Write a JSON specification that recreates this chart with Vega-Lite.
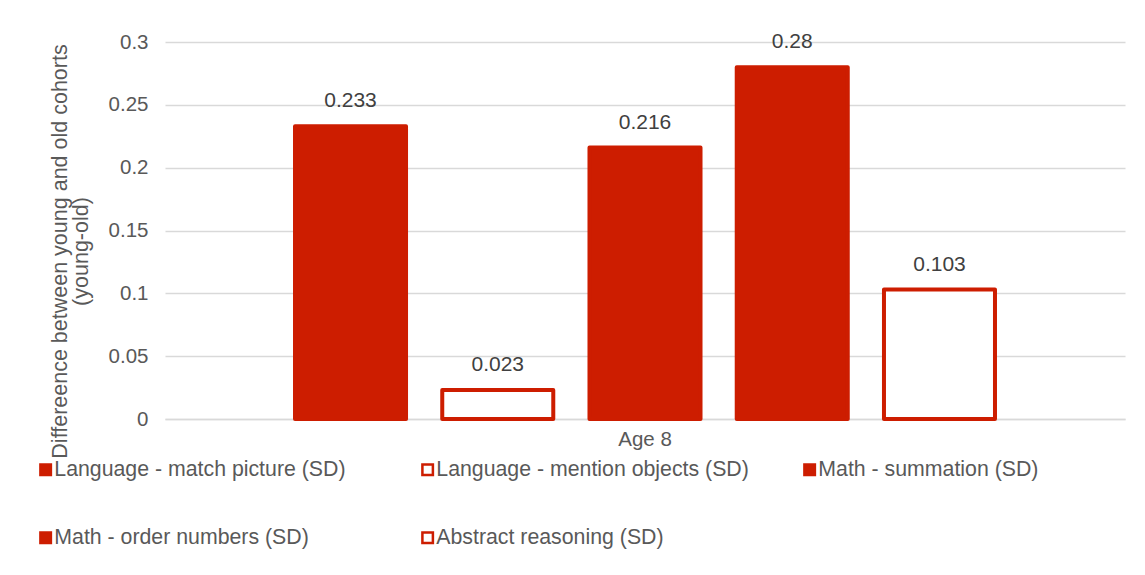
{
  "$schema": "https://vega.github.io/schema/vega-lite/v6.json",
  "autosize": {"type": "none"},
  "width": 960,
  "height": 377,
  "padding": {"left": 165, "top": 42, "right": 20, "bottom": 156},
  "background": "white",
  "config": {
    "view": {"stroke": null},
    "font": "Liberation Sans",
    "axis": {"labelFont": "Liberation Sans", "titleFont": "Liberation Sans"},
    "legend": {"labelFont": "Liberation Sans"}
  },
  "data": {
    "values": [
      {"age": "Age 8", "series": "Language - match picture (SD)", "value": 0.233},
      {"age": "Age 8", "series": "Language - mention objects (SD)", "value": 0.023},
      {"age": "Age 8", "series": "Math - summation (SD)", "value": 0.216},
      {"age": "Age 8", "series": "Math - order numbers (SD)", "value": 0.28},
      {"age": "Age 8", "series": "Abstract reasoning (SD)", "value": 0.103}
    ]
  },
  "encoding": {
    "x": {
      "field": "age",
      "type": "nominal",
      "scale": {"paddingInner": 0, "paddingOuter": 0},
      "axis": {
        "title": null,
        "labelAngle": 0,
        "labelFontSize": 20.5,
        "labelColor": "#595959",
        "labelPadding": 10,
        "ticks": false,
        "domain": true,
        "domainColor": "#d9d9d9",
        "domainWidth": 1.5
      }
    },
    "xOffset": {
      "field": "series",
      "type": "nominal",
      "sort": ["Language - match picture (SD)", "Language - mention objects (SD)", "Math - summation (SD)", "Math - order numbers (SD)", "Abstract reasoning (SD)"],
      "scale": {"paddingInner": 0.246, "paddingOuter": 0.883}
    },
    "y": {
      "field": "value",
      "type": "quantitative",
      "scale": {"domain": [0, 0.3], "nice": false},
      "axis": {
        "values": [0, 0.05, 0.1, 0.15, 0.2, 0.25, 0.3],
        "format": "~g",
        "title": ["Differeence between young and old cohorts", "(young-old)"],
        "titleFontSize": 21.5,
        "titleFontWeight": "normal",
        "titleColor": "#595959",
        "titleAngle": -90,
        "titleAlign": "center",
        "titleBaseline": "alphabetic",
        "titleLineHeight": 21,
        "titleX": -99,
        "titleY": 209,
        "labelFontSize": 20.5,
        "labelColor": "#595959",
        "labelPadding": 17,
        "ticks": false,
        "domain": false,
        "grid": true,
        "gridColor": "#d9d9d9",
        "gridWidth": 1.5
      }
    }
  },
  "layer": [
    {
      "mark": {"type": "bar", "stroke": "#CD1D00", "strokeWidth": 4, "strokeJoin": "round"},
      "encoding": {
        "fill": {
          "field": "series",
          "type": "nominal",
          "sort": ["Language - match picture (SD)", "Language - mention objects (SD)", "Math - summation (SD)", "Math - order numbers (SD)", "Abstract reasoning (SD)"],
          "scale": {
            "domain": ["Language - match picture (SD)", "Language - mention objects (SD)", "Math - summation (SD)", "Math - order numbers (SD)", "Abstract reasoning (SD)"],
            "range": ["#CD1D00", "#FFFFFF", "#CD1D00", "#CD1D00", "#FFFFFF"]
          },
          "legend": {
            "title": null,
            "orient": "none",
            "legendX": -130,
            "legendY": 417,
            "direction": "horizontal",
            "columns": 3,
            "gridAlign": "all",
            "columnPadding": 50,
            "rowPadding": 46,
            "padding": 0,
            "symbolType": "square",
            "symbolSize": 110,
            "symbolStrokeColor": "#CD1D00",
            "symbolStrokeWidth": 2.5,
            "symbolOpacity": 1,
            "labelFontSize": 21.3,
            "labelColor": "#595959",
            "labelOffset": -2,
            "labelLimit": 400
          }
        }
      }
    },
    {
      "mark": {"type": "text", "baseline": "alphabetic", "dy": -19, "fontSize": 21, "color": "#404040"},
      "encoding": {
        "text": {"field": "value", "type": "quantitative", "format": "~g"}
      }
    }
  ]
}
